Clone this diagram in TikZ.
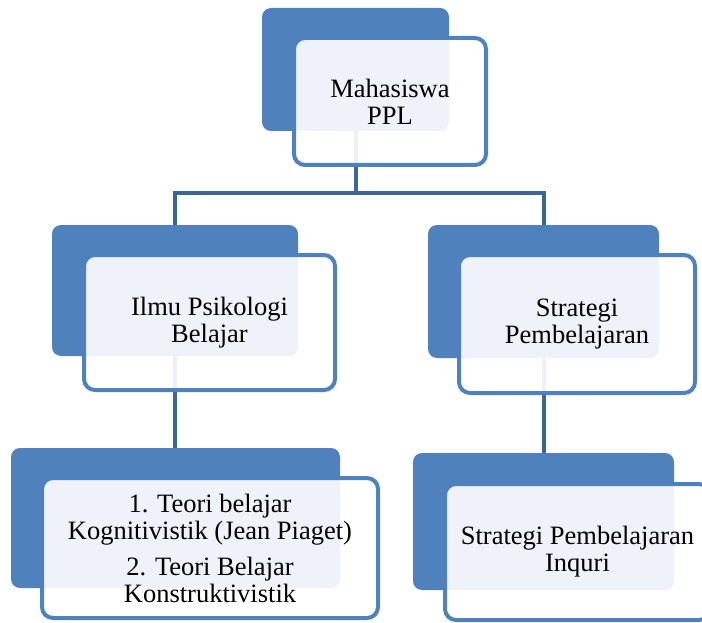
\documentclass[tikz,border=0pt]{standalone}
\usepackage{fontspec}
\setmainfont{Liberation Serif}
\definecolor{accblue}{RGB}{79,129,189}
\definecolor{connblue}{RGB}{62,101,152}
\begin{document}
\begin{tikzpicture}[x=1pt,y=-1pt,
  backbox/.style={fill=accblue, rounded corners=9pt, inner sep=0pt, outer sep=0pt},
  frontbox/.style={draw=accblue, line width=4pt, fill=white, fill opacity=0.91, text opacity=1,
     rounded corners=11pt, inner sep=0pt, align=center, font=\fontsize{26.5}{27}\selectfont},
  conn/.style={draw=connblue, line width=4pt}]
\useasboundingbox (0,0) rectangle (702,623);
\fill[white] (0,0) rectangle (702,623);
\clip (0,0) rectangle (702,623);
% back boxes
\node[backbox, minimum width=187pt, minimum height=123pt] (b1) at (355.5,69.5) {};
\node[backbox, minimum width=246pt, minimum height=131pt] (b2) at (175,290.5) {};
\node[backbox, minimum width=231pt, minimum height=133pt] (b3) at (543.5,291.5) {};
\node[backbox, minimum width=329pt, minimum height=140pt] (b4) at (175.5,518) {};
\node[backbox, minimum width=261pt, minimum height=137pt] (b5) at (543.5,521.5) {};
% connectors
\coordinate (hub) at (355.5,193);
\draw[conn] (b1.south) -- (hub);
\draw[conn] (b2.north) |- (hub) -| (b3.north);
\draw[conn] (b2.south) -- (b2.south |- b4.north);
\draw[conn] (b3.south) -- (b3.south |- b5.north);
% front boxes
\node[frontbox, minimum width=192pt, minimum height=127pt] (f1) at (390,101.5) {Mahasiswa\\PPL};
\node[frontbox, minimum width=251pt, minimum height=135pt] (f2) at (209.5,322.5) {Ilmu Psikologi\\Belajar};
\node[frontbox, minimum width=236pt, minimum height=138pt] (f3) at (577,324) {Strategi\\Pembelajaran};
\node[frontbox, minimum width=336pt, minimum height=140pt] (f4) at (210,548) {1. Teori belajar\\Kognitivistik (Jean Piaget)\\[9pt]2. Teori Belajar\\Konstruktivistik};
\node[frontbox, minimum width=265pt, minimum height=136pt] (f5) at (577.5,552) {Strategi Pembelajaran\\Inquri};
\end{tikzpicture}
\end{document}
